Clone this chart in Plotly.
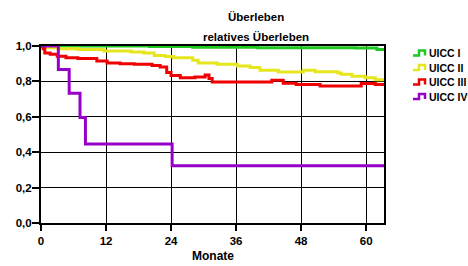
import plotly.graph_objects as go

# ---- data (months, survival) ----
series_names = ["UICC I", "UICC II", "UICC III", "UICC IV"]
series_colors = ["#1ec81e", "#e6e61e", "#f00000", "#9600c8"]

uicc1_t = [0, 20, 28, 40, 58, 62, 63.3]
uicc1_s = [1.0, 0.997, 0.993, 0.99, 0.988, 0.98, 0.98]

uicc2_t = [0, 0.4, 3.1, 6.8, 11.6, 16.6, 19.0, 20.9, 22.9, 24.4, 28.0, 29.0, 32.5, 36.2,
           38.6, 40.4, 43.8, 48.4, 50.6, 54.8, 55.4, 57.4, 59.8, 61.7, 63.3]
uicc2_s = [1.0, 0.99, 0.985, 0.98, 0.972, 0.966, 0.96, 0.947, 0.94, 0.934, 0.919, 0.904,
           0.897, 0.887, 0.878, 0.863, 0.853, 0.863, 0.855, 0.847, 0.84, 0.829, 0.821,
           0.81, 0.81]

uicc3_t = [0, 0.4, 0.7, 1.7, 3.0, 4.6, 6.8, 10.3, 12.2, 14.6, 17.2, 20.5, 22.0, 23.2,
           24.0, 25.7, 28.4, 30.3, 31.0, 31.6, 42.6, 44.7, 47.1, 51.5, 59.1, 61.7, 63.3]
uicc3_s = [1.0, 0.985, 0.96, 0.953, 0.942, 0.934, 0.929, 0.915, 0.904, 0.9, 0.897, 0.89,
           0.881, 0.85, 0.834, 0.821, 0.825, 0.836, 0.816, 0.797, 0.806, 0.79, 0.782,
           0.774, 0.788, 0.782, 0.782]

uicc4_t = [0, 3.2, 5.2, 7.2, 8.2, 24.2, 63.3]
uicc4_s = [1.0, 0.867, 0.733, 0.596, 0.446, 0.323, 0.323]

x_ticks = [0, 12, 24, 36, 48, 60]
y_ticks = [0.0, 0.2, 0.4, 0.6, 0.8, 1.0]

title_1 = "Überleben"
title_2 = "relatives Überleben"
x_title = "Monate"

FONT = "Liberation Sans, Arial, sans-serif"

fig = go.Figure()
for t, s, name, col in zip([uicc1_t, uicc2_t, uicc3_t, uicc4_t],
                           [uicc1_s, uicc2_s, uicc3_s, uicc4_s],
                           series_names, series_colors):
    fig.add_trace(go.Scatter(x=t, y=s, mode="lines", name=name,
                             line=dict(color=col, width=3, shape="hv"),
                             showlegend=False))

# layout helpers work in window pixels (page margin removed via post_script)
FW, FH = 468, 266
L, R, T, B = 41, 384, 46, 223
W, H = R - L, B - T
def px(x):
    return (x - L) / W
def py(y):
    return (B - y) / H

annotations = [
    dict(text="<b>%s</b>" % title_1, x=px(256), y=py(17), xref="paper", yref="paper",
         showarrow=False, xanchor="center", yanchor="middle",
         font=dict(family=FONT, size=11.5, color="black")),
    dict(text="<b>%s</b>" % title_2, x=px(256), y=py(37), xref="paper", yref="paper",
         showarrow=False, xanchor="center", yanchor="middle",
         font=dict(family=FONT, size=11.5, color="black")),
    dict(text="<b>%s</b>" % x_title, x=px(213), y=py(256), xref="paper", yref="paper",
         showarrow=False, xanchor="center", yanchor="middle",
         font=dict(family=FONT, size=12, color="black")),
]
shapes = []
row_y = [53, 67.5, 82, 96.5]
for name, col, yy in zip(series_names, series_colors, row_y):
    path = "M %f,%f L %f,%f L %f,%f L %f,%f L %f,%f" % (
        px(413), py(yy + 2.5), px(419), py(yy + 2.5), px(419), py(yy - 2.5),
        px(425), py(yy - 2.5), px(425), py(yy + 2.5))
    shapes.append(dict(type="path", path=path, xref="paper", yref="paper",
                       line=dict(color=col, width=2.5)))
    annotations.append(dict(text="<b>%s</b>" % name, x=px(427), y=py(yy),
                            xref="paper", yref="paper", showarrow=False,
                            xanchor="left", yanchor="middle",
                            font=dict(family=FONT, size=10.5, color="black")))

fig.update_layout(
    width=FW, height=FH,
    margin=dict(l=L, r=FW - R, t=T, b=FH - B, autoexpand=False),
    paper_bgcolor="white", plot_bgcolor="white",
    separators=",.",
    font=dict(family=FONT, size=11, color="black"),
    annotations=annotations, shapes=shapes,
    showlegend=False,
)
fig.update_xaxes(range=[0, 63.3], tickvals=x_ticks, ticktext=["<b>%d</b>" % v for v in x_ticks],
                 showgrid=True, gridcolor="black", gridwidth=1,
                 showline=True, linecolor="black", linewidth=2, mirror=True,
                 ticks="outside", ticklen=6, tickcolor="black", tickwidth=1.5,
                 zeroline=False, automargin=False,
                 tickfont=dict(family=FONT, size=11.5))
fig.update_yaxes(range=[0, 1.0], tickvals=y_ticks,
                 ticktext=["<b>%s</b>" % ("%.1f" % v).replace(".", ",") for v in y_ticks],
                 showgrid=True, gridcolor="black", gridwidth=1,
                 showline=True, linecolor="black", linewidth=2, mirror=True,
                 ticks="outside", ticklen=7, tickcolor="black", tickwidth=1.5,
                 ticklabelstandoff=-2,
                 zeroline=False, automargin=False,
                 tickfont=dict(family=FONT, size=11.5))

fig.write_html("out.html", config={"displayModeBar": False},
               post_script="document.body.style.margin='0';"
                           "document.body.style.overflow='hidden';")
